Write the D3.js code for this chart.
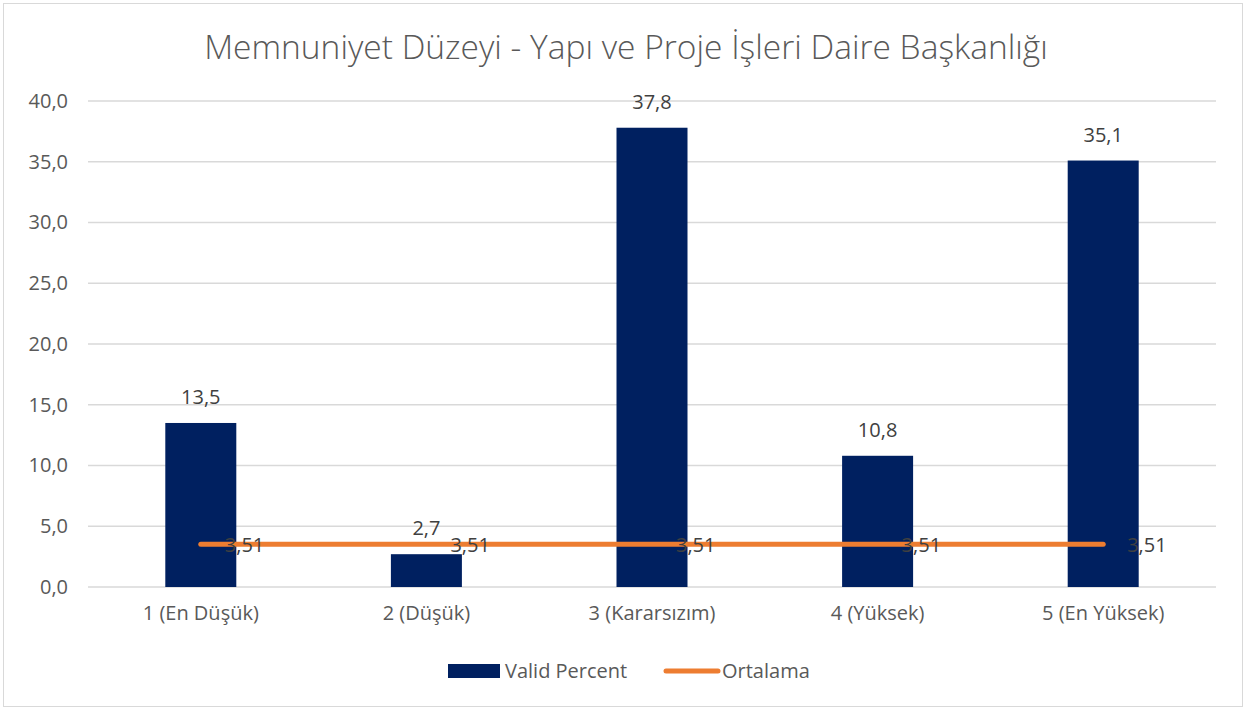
<!DOCTYPE html>
<html>
<head>
<meta charset="utf-8">
<script src="https://cdn.jsdelivr.net/npm/d3@7"></script>
<style>
  body { margin: 0; background: #fff; }
  text { font-family: "Open Sans", "Noto Sans", sans-serif; }
</style>
</head>
<body>
<svg width="1247" height="711"></svg>
<script>
var categories = ["1 (En Düşük)", "2 (Düşük)", "3 (Kararsızım)", "4 (Yüksek)", "5 (En Yüksek)"];
var validPercent = [13.5, 2.7, 37.8, 10.8, 35.1];
var ortalama = [3.51, 3.51, 3.51, 3.51, 3.51];
var yTicks = [0, 5, 10, 15, 20, 25, 30, 35, 40];

var svg = d3.select("svg");
var fmt1 = function (v) { return d3.format(".1f")(v).replace(".", ","); };
var fmt2 = function (v) { return d3.format(".2f")(v).replace(".", ","); };
var fs = 20;

// chart border
svg.append("rect")
    .attr("x", 3.5).attr("y", 3.5)
    .attr("width", 1239).attr("height", 703)
    .attr("fill", "#fff")
    .attr("stroke", "#d9d9d9");

svg.append("text")
    .attr("x", 626).attr("y", 59)
    .attr("text-anchor", "middle")
    .attr("font-size", 33.5)
    .attr("font-weight", 300)
    .attr("fill", "#595959")
    .text("Memnuniyet Düzeyi - Yapı ve Proje İşleri Daire Başkanlığı");

var x = d3.scaleBand().domain(categories).range([88, 1216]);
var y = d3.scaleLinear().domain([0, 40]).range([587, 101]);

// gridlines
svg.append("g")
    .selectAll("line")
    .data(yTicks)
    .enter().append("line")
    .attr("x1", 88).attr("x2", 1216)
    .attr("y1", function (d) { return y(d); })
    .attr("y2", function (d) { return y(d); })
    .attr("stroke", "#d9d9d9")
    .attr("stroke-width", 1.3);

// y axis labels
var yAxis = svg.append("g")
    .attr("transform", "translate(68,0)")
    .call(d3.axisLeft(y).tickValues(yTicks).tickFormat(fmt1).tickSize(0).tickPadding(0));
yAxis.select(".domain").remove();
yAxis.selectAll("text")
    .attr("font-size", fs)
    .attr("fill", "#595959")
    .style("font-family", "'Open Sans', sans-serif");

// x axis labels
var xAxis = svg.append("g")
    .attr("transform", "translate(0,587)")
    .call(d3.axisBottom(x).tickSize(0).tickPadding(19));
xAxis.select(".domain").remove();
xAxis.selectAll("text")
    .attr("font-size", fs)
    .attr("fill", "#595959")
    .style("font-family", "'Open Sans', sans-serif");

var barW = 71;

svg.append("g")
    .selectAll("rect")
    .data(validPercent)
    .enter().append("rect")
    .attr("x", function (d, i) { return x(categories[i]) + x.bandwidth() / 2 - barW / 2; })
    .attr("y", function (d) { return y(d); })
    .attr("width", barW)
    .attr("height", function (d) { return y(0) - y(d); })
    .attr("fill", "#002060");

svg.append("g")
    .selectAll("text")
    .data(validPercent)
    .enter().append("text")
    .attr("x", function (d, i) { return x(categories[i]) + x.bandwidth() / 2; })
    .attr("y", function (d) { return y(d) - 19; })
    .attr("text-anchor", "middle")
    .attr("font-size", fs)
    .attr("fill", "#404040")
    .text(function (d) { return fmt1(d); });

var line = d3.line()
    .x(function (d, i) { return x(categories[i]) + x.bandwidth() / 2; })
    .y(function (d) { return y(d); });

svg.append("path")
    .datum(ortalama)
    .attr("d", line)
    .attr("fill", "none")
    .attr("stroke", "#ed7d31")
    .attr("stroke-width", 5)
    .attr("stroke-linecap", "round");

svg.append("g")
    .selectAll("text")
    .data(ortalama)
    .enter().append("text")
    .attr("x", function (d, i) { return x(categories[i]) + x.bandwidth() / 2 + 24; })
    .attr("y", function (d) { return y(d) + 8; })
    .attr("font-size", fs)
    .attr("fill", "#404040")
    .text(function (d) { return fmt2(d); });

// legend
var lg = svg.append("g");
lg.append("rect")
    .attr("x", 448).attr("y", 664)
    .attr("width", 52).attr("height", 14)
    .attr("fill", "#002060");
lg.append("text")
    .attr("x", 505).attr("y", 678)
    .attr("font-size", fs)
    .attr("fill", "#595959")
    .text("Valid Percent");
lg.append("line")
    .attr("x1", 666).attr("x2", 718)
    .attr("y1", 671).attr("y2", 671)
    .attr("stroke", "#ed7d31")
    .attr("stroke-width", 5)
    .attr("stroke-linecap", "round");
lg.append("text")
    .attr("x", 722).attr("y", 678)
    .attr("font-size", fs)
    .attr("fill", "#595959")
    .text("Ortalama");
</script>
</body>
</html>
